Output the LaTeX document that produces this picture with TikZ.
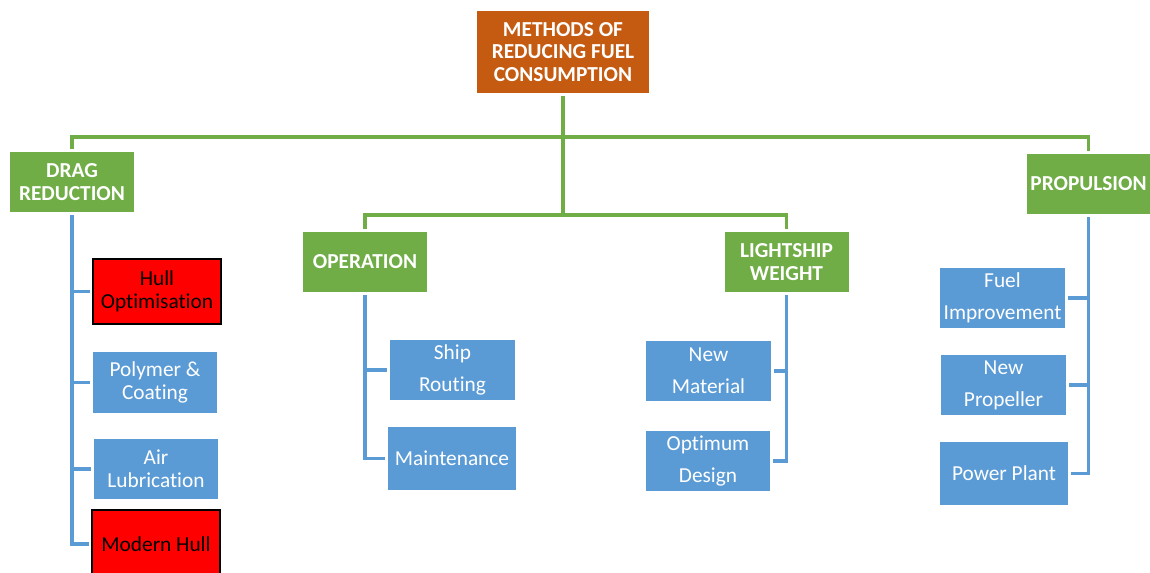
\documentclass[tikz,border=0pt]{standalone}
\usepackage{fontspec}
\setmainfont[Ligatures=NoCommon]{Carlito}
\definecolor{orangeT}{HTML}{C55A11}
\definecolor{greenT}{HTML}{70AD47}
\definecolor{blueT}{HTML}{5B9BD5}
\definecolor{redT}{HTML}{FF0000}
\begin{document}
\begin{tikzpicture}[x=0.75pt,y=-0.75pt,
  box/.style={rectangle,inner sep=0pt,outer sep=2.4pt,align=center},
  titlebox/.style={box,fill=orangeT,text=white,font=\fontsize{16}{17}\selectfont\bfseries,minimum width=129pt,minimum height=61.5pt},
  greenbox/.style={box,fill=greenT,text=white,font=\fontsize{16}{17.5}\selectfont\bfseries,minimum width=93pt,minimum height=45pt},
  bluebox/.style={box,fill=blueT,text=white,font=\fontsize{16}{17.5}\selectfont,minimum width=93pt,minimum height=45pt},
  wide/.style={font=\fontsize{16}{24}\selectfont},
  redbox/.style={box,fill=redT,draw=black,line width=1.5pt,text=black,font=\fontsize{16}{17}\selectfont,minimum width=96pt},
  gline/.style={draw=greenT,line width=2.4pt},
  bline/.style={draw=blueT,line width=2.4pt}]
\useasboundingbox (0,0) rectangle (1150,572);
\begin{scope}
\clip (0,0) rectangle (1150,572);
% top
\node[titlebox] (title) at (563,52) {METHODS OF\\REDUCING FUEL\\CONSUMPTION};
% level 1
\node[greenbox] (drag) at (72,182) {DRAG\\REDUCTION};
\node[greenbox] (oper) at (365,262) {OPERATION};
\node[greenbox] (light) at (786.5,262) {LIGHTSHIP\\WEIGHT};
\node[greenbox] (prop) at (1088.5,184) {PROPULSION};
% drag children
\node[redbox,minimum height=48.75pt] (hull) at (157,291.5) {Hull\\Optimisation};
\node[bluebox,minimum height=45.75pt] (poly) at (155,382.5) {Polymer \&\\Coating};
\node[bluebox] (air) at (156,469) {Air\\Lubrication};
\node[redbox,minimum height=51pt] (modern) at (156,544) {Modern Hull};
% operation children
\node[bluebox,wide,minimum width=93.75pt] (ship) at (452.5,370) {Ship\\Routing};
\node[bluebox,minimum width=96pt,minimum height=47.25pt] (maint) at (452,458.5) {Maintenance};
% lightship children
\node[bluebox,wide,minimum width=93.75pt] (newmat) at (708.5,371) {New\\Material};
\node[bluebox,wide] (optd) at (708,461) {Optimum\\Design};
% propulsion children
\node[bluebox,wide,minimum width=93.75pt] (fuel) at (1002.5,298) {Fuel\\Improvement};
\node[bluebox,wide,minimum width=93.75pt] (newprop) at (1003.5,385) {New\\Propeller};
\node[bluebox,minimum width=96pt,minimum height=47.25pt] (power) at (1004,473.5) {Power Plant};
% bus coordinates
\coordinate (bus1) at (563,137);
\coordinate (bus2) at (563,215);
% green connectors
\draw[gline] (title.south) -- (bus1) -- (bus2);
\draw[gline] (drag.north) -- (drag.north |- bus1) -- (prop.north |- bus1) -- (prop.north);
\draw[gline] (oper.north) -- (oper.north |- bus2) -- (light.north |- bus2) -- (light.north);
% blue connectors
\draw[bline] (drag.south) |- (modern.west);
\foreach \c in {hull,poly,air}
  \draw[bline] (\c.west) -- (\c.west -| drag.south);
\draw[bline] (oper.south) |- (maint.west);
\draw[bline] (ship.west) -- (ship.west -| oper.south);
\draw[bline] (light.south) |- (optd.east);
\draw[bline] (newmat.east) -- (newmat.east -| light.south);
\draw[bline] (prop.south) |- (power.east);
\foreach \c in {fuel,newprop}
  \draw[bline] (\c.east) -- (\c.east -| prop.south);
\end{scope}
\end{tikzpicture}
\end{document}
